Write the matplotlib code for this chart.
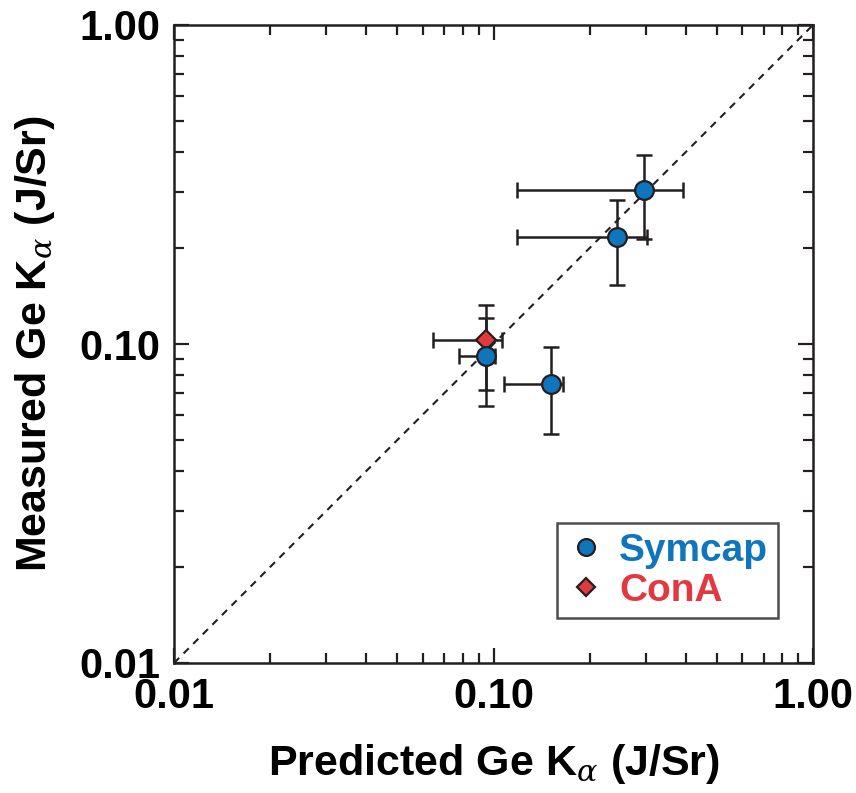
import numpy as np
import matplotlib
matplotlib.use("Agg")
import matplotlib.pyplot as plt

plt.rcParams["font.family"] = ["Liberation Sans", "DejaVu Sans"]
plt.rcParams["mathtext.fontset"] = "custom"
plt.rcParams["mathtext.it"] = "DejaVu Serif:italic"

# Symcap shots
sym_pred = [0.296, 0.244, 0.0947, 0.151]
sym_meas = [0.303, 0.217, 0.0917, 0.0748]
sym_pred_lo = [0.1187, 0.1187, 0.0782, 0.108]
sym_pred_hi = [0.391, 0.302, 0.1011, 0.1654]
sym_meas_lo = [0.2135, 0.153, 0.0641, 0.0522]
sym_meas_hi = [0.391, 0.283, 0.1206, 0.0976]

# ConA shot
cona_pred = [0.0947]
cona_meas = [0.1029]
cona_pred_lo = [0.0648]
cona_pred_hi = [0.1061]
cona_meas_lo = [0.0718]
cona_meas_hi = [0.1325]

BLUE = "#0f75bd"
RED = "#e2383f"
INK = "#231f20"


def errs(v, lo, hi):
    v = np.array(v)
    return [v - np.array(lo), np.array(hi) - v]


fig = plt.figure(figsize=(8.56, 7.93), dpi=100)
ax = fig.add_axes([174 / 856, 1 - 663 / 793, 639 / 856, 638 / 793])

ax.plot([0.01, 1], [0.01, 1], color=INK, linestyle=(0, (3.5, 3)), linewidth=1.5, zorder=1)

ax.errorbar(sym_pred, sym_meas,
            xerr=errs(sym_pred, sym_pred_lo, sym_pred_hi),
            yerr=errs(sym_meas, sym_meas_lo, sym_meas_hi),
            fmt="none", ecolor=INK, elinewidth=1.8, capsize=5.5, capthick=1.8, zorder=2)
ax.errorbar(cona_pred, cona_meas,
            xerr=errs(cona_pred, cona_pred_lo, cona_pred_hi),
            yerr=errs(cona_meas, cona_meas_lo, cona_meas_hi),
            fmt="none", ecolor=INK, elinewidth=1.8, capsize=5.5, capthick=1.8, zorder=2)
ax.plot(sym_pred, sym_meas, "o", color=BLUE, markersize=13.5, markeredgecolor=INK,
        markeredgewidth=1.6, zorder=4, label="Symcap")
ax.plot(cona_pred, cona_meas, "D", color=RED, markersize=10.5, markeredgecolor=INK,
        markeredgewidth=1.6, zorder=3, label="ConA")

ax.set_xscale("log")
ax.set_yscale("log")
ax.set_xlim(0.01, 1)
ax.set_ylim(0.01, 1)
ax.set_xticks([0.01, 0.1, 1])
ax.set_yticks([0.01, 0.1, 1])
ax.set_xticklabels(["0.01", "0.10", "1.00"])
ax.set_yticklabels(["0.01", "0.10", "1.00"])

for s in ax.spines.values():
    s.set_linewidth(1.8)
    s.set_color(INK)
ax.tick_params(which="both", direction="in", top=True, right=True, color=INK)
ax.tick_params(which="major", length=11, width=1.6, labelsize=30, pad=10)
ax.tick_params(which="minor", length=7, width=1.6)
for lab in ax.get_xticklabels() + ax.get_yticklabels():
    lab.set_fontweight("bold")

ax.set_xlabel(r"Predicted Ge K$_{\alpha}$ (J/Sr)", fontsize=31, fontweight="bold", labelpad=18)
ax.set_ylabel(r"Measured Ge K$_{\alpha}$ (J/Sr)", fontsize=31, fontweight="bold", labelpad=16)

leg = ax.legend(loc="lower right", bbox_to_anchor=(0.945, 0.07), fontsize=28,
                frameon=True, fancybox=False, handlelength=1.0, handletextpad=0.35,
                borderpad=0.25, labelspacing=0.1, markerscale=0.9, borderaxespad=0.0)
leg.get_frame().set_edgecolor(INK)
leg.get_frame().set_linewidth(1.8)
for t, c in zip(leg.get_texts(), [BLUE, RED]):
    t.set_color(c)
    t.set_fontweight("bold")

fig.savefig("out.png", dpi=100)
